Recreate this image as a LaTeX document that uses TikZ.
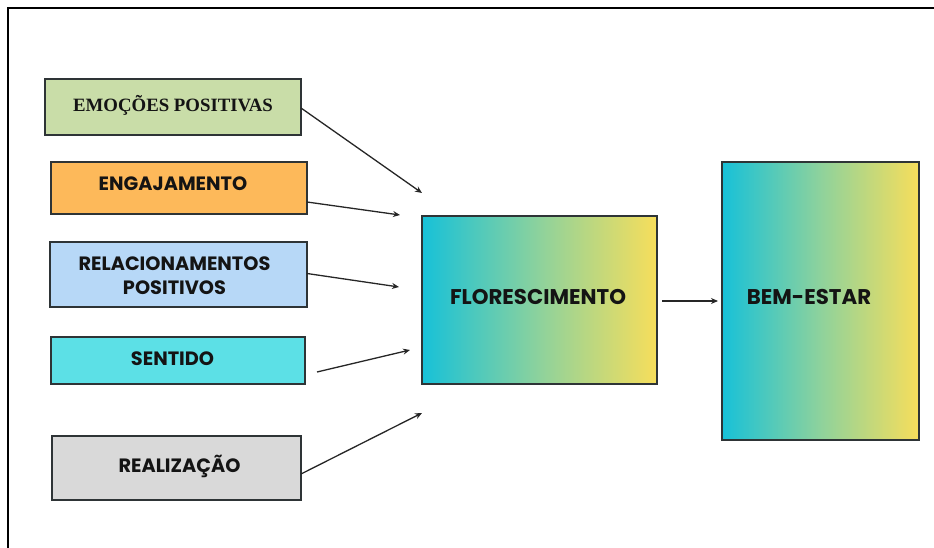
\documentclass[tikz,border=0pt]{standalone}
\usepackage{fontspec}
\setmainfont{Liberation Serif}
\newfontfamily\popb{Poppins}[UprightFont=* Bold]
\usetikzlibrary{arrows.meta,calc}
\definecolor{cgreen}{HTML}{C9DDA8}
\definecolor{corange}{HTML}{FDB95A}
\definecolor{cblue}{HTML}{B7D8F7}
\definecolor{ccyan}{HTML}{5CE0E6}
\definecolor{cgrey}{HTML}{D9D9D9}
\definecolor{gleft}{HTML}{17C1D8}
\definecolor{gmid}{HTML}{8ED29C}
\definecolor{gright}{HTML}{F7DE5B}
\definecolor{bordc}{HTML}{2E3436}
\definecolor{txtc}{HTML}{141414}
\tikzset{
  pbox/.style={draw=bordc, line width=1.4pt, inner sep=0pt, outer sep=0pt,
    text=txtc, align=center, font=\popb\fontsize{19.3}{24}\selectfont},
  gbox/.style={pbox, left color=gleft, right color=gright, middle color=gmid},
  gtxt/.style={font=\popb\fontsize{21.3}{24}\selectfont, text=txtc, inner sep=0pt},
  conn/.style={line width=1.3pt, draw=black!85, -{Stealth[length=7pt,width=6pt]}},
}
\begin{document}
\begin{tikzpicture}[x=1pt,y=-1pt]
\useasboundingbox (0,0) rectangle (934,548);
% frame
\draw[line width=2.6pt, line cap=rect] (8,548) -- (8,8) -- (934,8);
% left boxes
\node[pbox, fill=cgreen, minimum width=256pt, minimum height=56pt] (emo) at (173,107) {};
\node[font=\bfseries\fontsize{18.8}{22}\selectfont, text=txtc, inner sep=0pt] (emot) at (173,105) {EMOÇÕES POSITIVAS};
\node[pbox, fill=corange, minimum width=256pt, minimum height=52pt] (eng) at (179,188) {};
\node[pbox, draw=none, fill=none] (engt) at (173,184) {ENGAJAMENTO};
\node[pbox, fill=cblue, minimum width=257pt, minimum height=65pt] (rel) at (178.5,274.5) {};
\node[pbox, draw=none, fill=none] (relt) at (174.5,276) {RELACIONAMENTOS\\POSITIVOS};
\node[pbox, fill=ccyan, minimum width=254pt, minimum height=47pt] (sen) at (178,360.5) {};
\node[pbox, draw=none, fill=none] (sent) at (172.5,359) {SENTIDO};
\node[pbox, fill=cgrey, minimum width=249pt, minimum height=64pt] (rea) at (176.5,468) {};
\node[pbox, draw=none, fill=none] (reat) at (179.5,466) {REALIZAÇÃO};
% gradient boxes
\node[gbox, minimum width=235pt, minimum height=168pt] (flo) at (539.5,300) {};
\node[gtxt] (flot) at (538,297) {FLORESCIMENTO};
\node[gbox, minimum width=197pt, minimum height=278pt] (bem) at (820.5,301) {};
\node[gtxt] (bemt) at (809,297) {BEM-ESTAR};
% arrow end points
\coordinate (e1) at (422,193);
\coordinate (e2) at (400,215);
\coordinate (e3) at (399,287);
\coordinate (e4) at (410,350);
\coordinate (e5) at (422,413);
\coordinate (s4) at (317,372);
% connectors
\draw[conn] ([yshift=-1pt]emo.east) -- (e1);
\draw[conn] ([yshift=-14pt]eng.east) -- (e2);
\draw[conn] ([yshift=1pt]rel.east) -- (e3);
\draw[conn] (s4) -- (e4);
\draw[conn] ([yshift=-6pt]rea.east) -- (e5);
\draw[conn] ([xshift=5pt,yshift=-1pt]flo.east) -- ([xshift=-4pt]bem.west);
\end{tikzpicture}
\end{document}
